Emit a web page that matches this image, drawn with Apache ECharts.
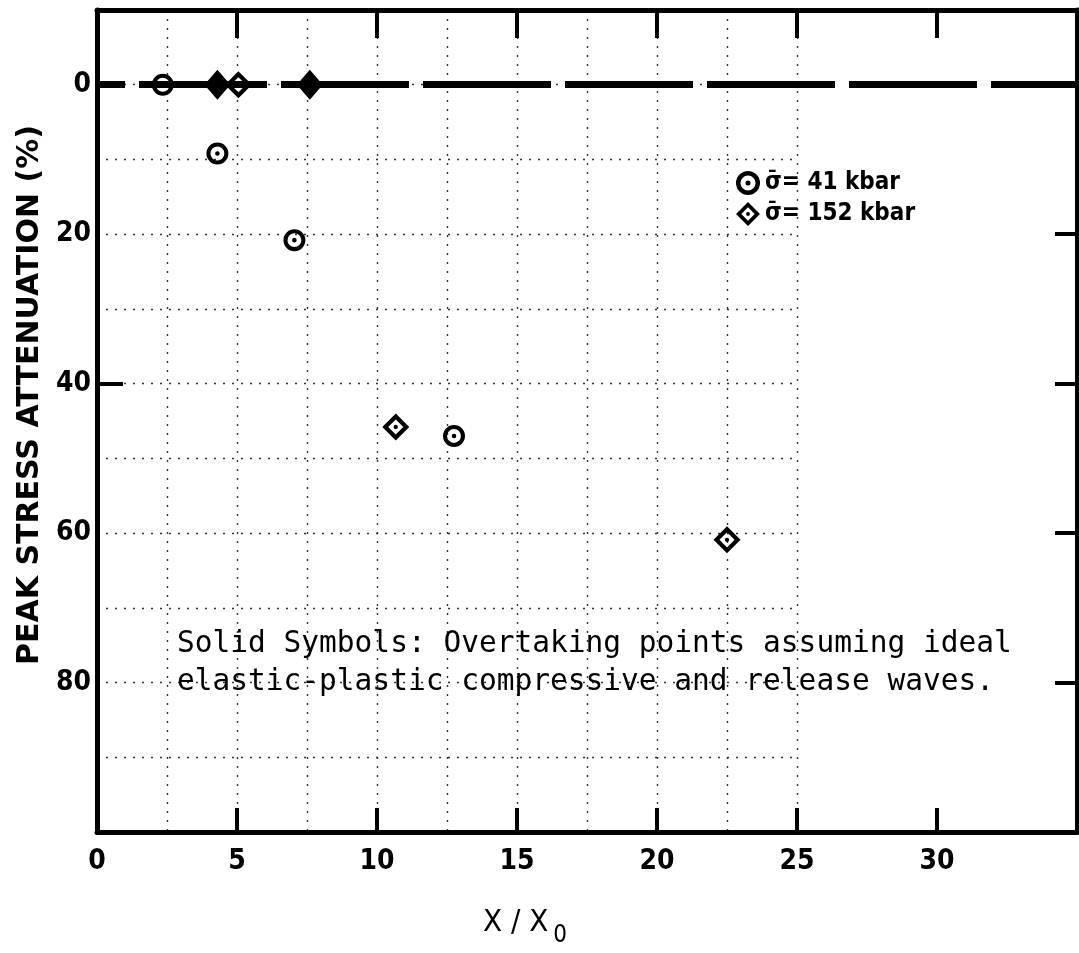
<!DOCTYPE html>
<html>
<head>
<meta charset="utf-8">
<script src="https://cdn.jsdelivr.net/npm/echarts@6/dist/echarts.min.js"></script>
<style>html,body{margin:0;padding:0;background:#fff;}#c{width:1079px;height:953px;}</style>
</head>
<body>
<div id="c"></div>
<script>
// ---- data ----
const circleX = [2.35, 4.3, 7.05, 12.75];
const circleY = [0, 9.2, 20.8, 47.0];
const diamondX = [5.05, 10.67, 22.5];
const diamondY = [0, 45.8, 60.9];
const solidX = [4.3, 7.6];
const solidY = [0, 0];
const xTickLabels = [0, 5, 10, 15, 20, 25, 30];
const xMajorTicks = [5, 10, 15, 20, 25, 30];
const yTickLabels = [0, 20, 40, 60, 80];
const yLeftTicks = [40];
const yRightTicks = [20, 40, 60, 80];
const legendNames = ['σ̄= 41 kbar', 'σ̄= 152 kbar'];
const note = ['Solid Symbols: Overtaking points assuming ideal', 'elastic-plastic compressive and release waves.'];

const zip = (xs, ys) => xs.map((x, i) => [x, ys[i]]);

const ringPath = 'path://M0,-10A10,10 0 1,1 0,10A10,10 0 1,1 0,-10Z M0,-6.3A6.3,6.3 0 1,0 0,6.3A6.3,6.3 0 1,0 0,-6.3Z M0,-2.1A2.1,2.1 0 1,1 0,2.1A2.1,2.1 0 1,1 0,-2.1Z';
const diamondPath = 'path://M0,-10L10,0L0,10L-10,0Z M0,-5.6L-5.6,0L0,5.6L5.6,0Z M0,-1.6A1.6,1.6 0 1,1 0,1.6A1.6,1.6 0 1,1 0,-1.6Z';

const numFont = '"DejaVu Sans Condensed", "Liberation Sans", sans-serif';
const chart = echarts.init(document.getElementById('c'), null, {renderer: 'canvas'});
const axisLine = {show: true, onZero: false, lineStyle: {color: '#000', width: 5}};
const gridDots = {show: true, lineStyle: {color: '#333', width: 1.4, type: [2, 7]}};

chart.setOption({
  backgroundColor: '#fff',
  animation: false,
  grid: [
    {left: 97, right: 2, top: 10, bottom: 121},
    {left: 97, right: 282, top: 10, bottom: 121}
  ],
  xAxis: [
    {
      type: 'value', gridIndex: 0, min: 0, max: 35, interval: 5, position: 'bottom',
      axisLine: axisLine,
      axisTick: {show: true, inside: true, length: 24, customValues: xMajorTicks, lineStyle: {color: '#000', width: 4}},
      axisLabel: {customValues: xTickLabels, margin: 16, color: '#000', fontFamily: numFont, fontWeight: 'bold', fontSize: 28},
      splitLine: {show: false},
      name: 'X / X{sub|0}', nameLocation: 'middle', nameGap: 66,
      nameTextStyle: {
        color: '#000', fontFamily: numFont, fontSize: 31, padding: [0, 124, 0, 0],
        rich: {sub: {fontFamily: numFont, fontSize: 24, color: '#000', padding: [26, 0, 0, 5]}}
      }
    },
    {
      type: 'value', gridIndex: 0, min: 0, max: 35, interval: 5, position: 'top',
      axisLine: axisLine,
      axisTick: {show: true, inside: true, length: 28, customValues: xMajorTicks, lineStyle: {color: '#000', width: 4}},
      axisLabel: {show: false}, splitLine: {show: false}
    },
    {
      type: 'value', gridIndex: 1, min: 0, max: 25, interval: 2.5,
      axisLine: {show: false}, axisTick: {show: false}, axisLabel: {show: false},
      splitLine: gridDots
    }
  ],
  yAxis: [
    {
      type: 'value', gridIndex: 0, inverse: true, min: -10, max: 100, interval: 10, position: 'left',
      axisLine: axisLine,
      axisTick: {show: true, inside: true, length: 26, customValues: yLeftTicks, lineStyle: {color: '#000', width: 4}},
      axisLabel: {customValues: yTickLabels, margin: 6, color: '#000', fontFamily: numFont, fontWeight: 'bold', fontSize: 28},
      splitLine: {show: false},
      name: 'PEAK STRESS ATTENUATION (%)', nameLocation: 'middle', nameGap: 48, nameRotate: 90,
      nameTextStyle: {color: '#000', fontFamily: 'DejaVu Sans', fontWeight: 'bold', fontSize: 30, padding: [0, 0, 0, 52]}
    },
    {
      type: 'value', gridIndex: 0, inverse: true, min: -10, max: 100, interval: 10, position: 'right',
      axisLine: axisLine,
      axisTick: {show: true, inside: true, length: 22, customValues: yRightTicks, lineStyle: {color: '#000', width: 4}},
      axisLabel: {show: false}, splitLine: {show: false}
    },
    {
      type: 'value', gridIndex: 1, inverse: true, min: -10, max: 100, interval: 10,
      axisLine: {show: false}, axisTick: {show: false}, axisLabel: {show: false},
      splitLine: gridDots
    }
  ],
  legend: {
    orient: 'vertical', left: 731, top: 166, itemGap: 7, itemWidth: 24, itemHeight: 24,
    data: legendNames,
    textStyle: {color: '#000', fontFamily: numFont, fontWeight: 'bold', fontSize: 24},
    selectedMode: false
  },
  graphic: [
    {
      type: 'text', left: 177, top: 625, z: 10,
      style: {text: note.join('\n'), fill: '#000', font: '29.5px "DejaVu Sans Mono"', lineHeight: 38}
    }
  ],
  series: [
    {
      type: 'line', xAxisIndex: 0, yAxisIndex: 0, data: [], z: 1,
      markLine: {
        silent: true, symbol: ['none', 'none'], label: {show: false},
        lineStyle: {color: '#000', width: 7, type: [128, 14], dashOffset: 100, opacity: 1},
        data: [{yAxis: 0}]
      }
    },
    {
      name: legendNames[0], type: 'scatter', xAxisIndex: 0, yAxisIndex: 0, z: 5,
      symbol: ringPath, symbolSize: 22,
      itemStyle: {color: '#000', opacity: 1},
      data: zip(circleX, circleY)
    },
    {
      name: legendNames[1], type: 'scatter', xAxisIndex: 0, yAxisIndex: 0, z: 5,
      symbol: diamondPath, symbolSize: 27,
      itemStyle: {color: '#000', opacity: 1},
      data: zip(diamondX, diamondY)
    },
    {
      name: 'Overtaking points', type: 'scatter', xAxisIndex: 0, yAxisIndex: 0, z: 5,
      symbol: 'diamond', symbolSize: [26, 30],
      itemStyle: {color: '#000', opacity: 1},
      data: zip(solidX, solidY)
    }
  ]
});
</script>
</body>
</html>
